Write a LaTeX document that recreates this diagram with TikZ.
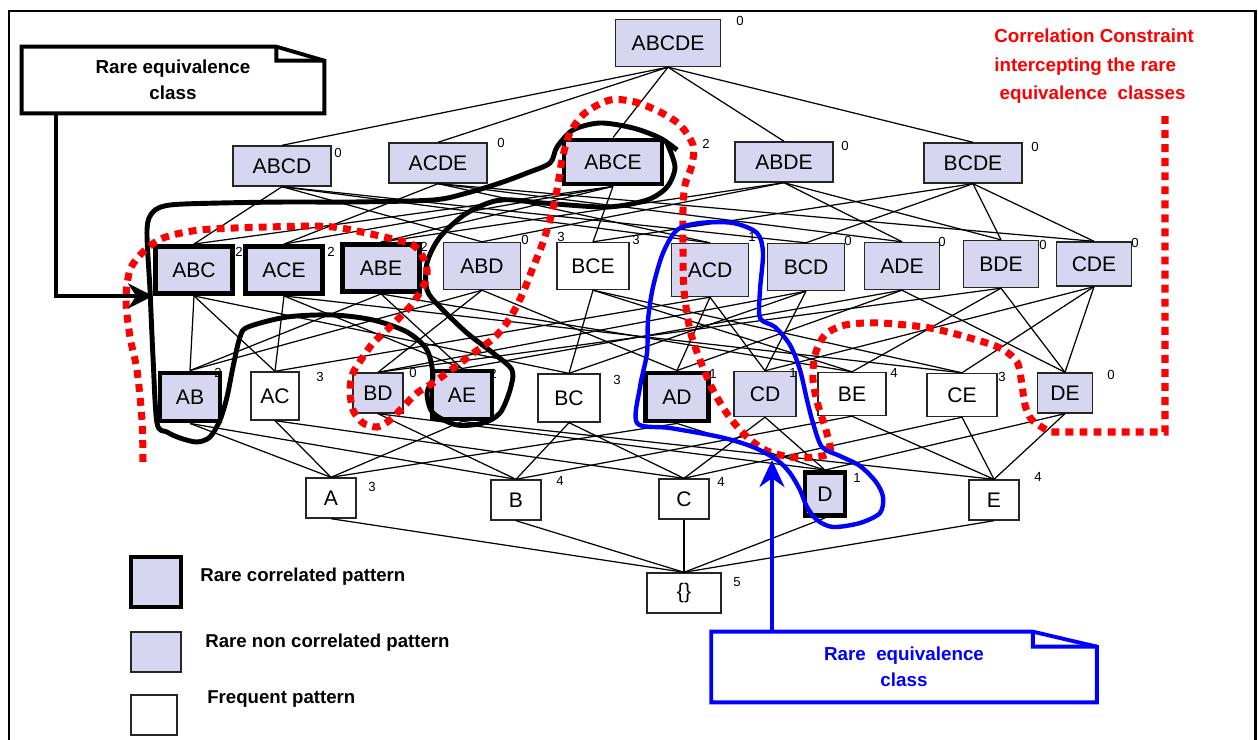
\documentclass[tikz,border=0pt]{standalone}
\usepackage{fontspec}
\setmainfont{Liberation Sans}
\usepackage{tikz}
\usetikzlibrary{arrows.meta}
\definecolor{rarefill}{RGB}{214,214,240}

\begin{document}
\begin{tikzpicture}[x=0.02cm, y=-0.02cm,
	pat/.style={draw=black!85, line width=0.8pt, inner sep=0pt, font=\fontsize{12}{14}\selectfont},
	rare/.style={pat, fill=rarefill},
	corr/.style={pat, fill=rarefill, draw=black, line width=2.8pt},
	freq/.style={pat, fill=white},
	toprow/.style={minimum width=2.1cm, minimum height=0.94cm},
	rowone/.style={minimum width=1.96cm, minimum height=0.8cm},
	rowtwo/.style={minimum width=1.54cm, minimum height=0.94cm},
	rowthree/.style={minimum width=1.2cm, minimum height=0.96cm},
	rowfour/.style={minimum width=1cm, minimum height=0.8cm},
	supp/.style={inner sep=0pt, font=\fontsize{7.5}{9}\selectfont},
	lat/.style={line width=0.7pt},
	notetext/.style={align=center, inner sep=0pt, font=\fontsize{10.7}{15}\selectfont\bfseries},
	noteline/.style={line width=2.2pt, line join=miter},
	legtext/.style={anchor=west, inner sep=0pt, font=\fontsize{10.6}{12}\selectfont\bfseries},
	blackline/.style={line width=2.8pt, line join=round},
	redline/.style={red, line width=4pt, dash pattern=on 4.5pt off 3.5pt},
	blueline/.style={blue, line width=2.5pt, line join=round}]
	\useasboundingbox (0,0) rectangle (1258,740);
	\draw[line width=1.7pt] (9,760) -- (9,11) -- (1255,11) -- (1255,760);

	% lattice
	\node[rare] (ABCDE) at (668,43) [toprow] {ABCDE};
		\node[rare] (ABCD) at (282,166) [rowone] {ABCD};
		\node[rare] (ACDE) at (438,163) [rowone] {ACDE};
		\node[corr] (ABCE) at (613,162) [rowone, minimum height=0.88cm] {ABCE};
		\node[rare] (ABDE) at (784,162) [rowone] {ABDE};
		\node[rare] (BCDE) at (973,163) [rowone] {BCDE};
			\node[corr] (ABC) at (194,270) [rowtwo] {ABC};
			\node[corr] (ACE) at (284,270) [rowtwo] {ACE};
			\node[corr] (ABE) at (381,268) [rowtwo] {ABE};
			\node[rare] (ABD) at (482,266) [rowtwo] {ABD};
			\node[freq] (BCE) at (593,266) [rowtwo, minimum width=1.44cm] {BCE};
			\node[rare] (ACD) at (710,270) [rowtwo, minimum height=1.06cm] {ACD};
			\node[rare] (BCD) at (806,267) [rowtwo] {BCD};
			\node[rare] (ADE) at (902,266) [rowtwo, minimum width=1.5cm] {ADE};
			\node[rare] (BDE) at (1001,264) [rowtwo, minimum width=1.5cm] {BDE};
			\node[rare] (CDE) at (1094,264) [rowtwo, minimum width=1.5cm, minimum height=0.88cm] {CDE};
				\node[corr] (AB) at (190,397) [rowthree] {AB};
				\node[freq] (AC) at (275,396) [rowthree, minimum width=0.96cm] {AC};
				\node[rare] (BD) at (378,393) [rowthree, minimum width=1cm, minimum height=0.8cm] {BD};
				\node[corr] (AE) at (462,395) [rowthree] {AE};
				\node[freq] (BC) at (569,398) [rowthree, minimum width=1.24cm] {BC};
				\node[corr] (AD) at (677,397) [rowthree, minimum width=1.26cm] {AD};
				\node[rare] (CD) at (765,394) [rowthree, minimum width=1.24cm, minimum height=0.9cm] {CD};
				\node[freq] (BE) at (852,394) [rowthree, minimum width=1.36cm, minimum height=0.86cm] {BE};
				\node[freq] (CE) at (962,395) [rowthree, minimum width=1.4cm, minimum height=0.86cm] {CE};
				\node[rare] (DE) at (1065,393) [rowthree, minimum width=1.1cm, minimum height=0.8cm] {DE};
					\node[freq] (A) at (331,498) [rowfour] {A};
					\node[freq] (B) at (516,500) [rowfour] {B};
					\node[freq] (C) at (684,499) [rowfour] {C};
					\node[corr] (D) at (825,494) [rowfour, minimum width=0.8cm, minimum height=0.86cm] {D};
					\node[freq] (E) at (994,500) [rowfour] {E};
						\node[freq] (empty) at (684,593) [rowfour, minimum width=1.48cm] {\{\}};

	% supports
	\node[supp] (sABCDE) at (740,21) {0};
	\node[supp] (sABCD) at (338,153) {0};
	\node[supp] (sACDE) at (501,143) {0};
	\node[supp] (sABCE) at (706,144) {2};
	\node[supp] (sABDE) at (845,146) {0};
	\node[supp] (sBCDE) at (1035,147) {0};
	\node[supp] (sABC) at (239,252) {2};
	\node[supp] (sACE) at (331,252) {2};
	\node[supp] (sABE) at (424,247) {2};
	\node[supp] (sABD) at (525,240) {0};
	\node[supp] (sextra) at (561,237) {3};
	\node[supp] (sBCE) at (636,240) {3};
	\node[supp] (sACD) at (752,237) {1};
	\node[supp] (sBCD) at (848,241) {0};
	\node[supp] (sADE) at (942,242) {0};
	\node[supp] (sBDE) at (1043,245) {0};
	\node[supp] (sCDE) at (1135,243) {0};
	\node[supp] (sAB) at (218,373) {2};
	\node[supp] (sAC) at (320,377) {3};
	\node[supp] (sBD) at (413,373) {0};
	\node[supp] (sAE) at (493,374) {2};
	\node[supp] (sBC) at (617,380) {3};
	\node[supp] (sAD) at (713,374) {1};
	\node[supp] (sCD) at (793,373) {1};
	\node[supp] (sBE) at (894,373) {4};
	\node[supp] (sCE) at (1002,377) {3};
	\node[supp] (sDE) at (1111,375) {0};
	\node[supp] (sA) at (372,487) {3};
	\node[supp] (sB) at (560,481) {4};
	\node[supp] (sC) at (721,482) {4};
	\node[supp] (sD) at (857,478) {1};
	\node[supp] (sE) at (1038,477) {4};
	\node[supp] (sempty) at (737,582) {5};

	\draw[lat] (ABCDE.south) to (ABCD.north);
	\draw[lat] (ABCDE.south) to (ACDE.north);
	\draw[lat] (ABCDE.south) to (ABCE.north);
	\draw[lat] (ABCDE.south) to (ABDE.north);
	\draw[lat] (ABCDE.south) to (BCDE.north);
	\draw[lat] (ABCD.south) to (ABC.north);
	\draw[lat] (ABCD.south) to (ABD.north);
	\draw[lat] (ABCD.south) to (ACD.north);
	\draw[lat] (ABCD.south) to (BCD.north);
	\draw[lat] (ACDE.south) to (ACD.north);
	\draw[lat] (ACDE.south) to (ACE.north);
	\draw[lat] (ACDE.south) to (ADE.north);
	\draw[lat] (ACDE.south) to (CDE.north);
	\draw[lat] (ABCE.south) to (ABC.north);
	\draw[lat] (ABCE.south) to (ABE.north);
	\draw[lat] (ABCE.south) to (ACE.north);
	\draw[lat] (ABCE.south) to (BCE.north);
	\draw[lat] (ABDE.south) to (ABD.north);
	\draw[lat] (ABDE.south) to (ABE.north);
	\draw[lat] (ABDE.south) to (ADE.north);
	\draw[lat] (ABDE.south) to (BDE.north);
	\draw[lat] (BCDE.south) to (BCD.north);
	\draw[lat] (BCDE.south) to (BCE.north);
	\draw[lat] (BCDE.south) to (BDE.north);
	\draw[lat] (BCDE.south) to (CDE.north);
	\draw[lat] (ABC.south) to (AB.north);
	\draw[lat] (ABC.south) to (AC.north);
	\draw[lat] (ABC.south) to (BC.north);
	\draw[lat] (ACE.south) to (AC.north);
	\draw[lat] (ACE.south) to (AE.north);
	\draw[lat] (ACE.south) to (CE.north);
	\draw[lat] (ABE.south) to (AB.north);
	\draw[lat] (ABE.south) to (AE.north);
	\draw[lat] (ABE.south) to (BE.north);
	\draw[lat] (ABD.south) to (AB.north);
	\draw[lat] (ABD.south) to (AD.north);
	\draw[lat] (ABD.south) to (BD.north);
	\draw[lat] (BCE.south) to (BC.north);
	\draw[lat] (BCE.south) to (BE.north);
	\draw[lat] (BCE.south) to (CE.north);
	\draw[lat] (ACD.south) to (AC.north);
	\draw[lat] (ACD.south) to (AD.north);
	\draw[lat] (ACD.south) to (CD.north);
	\draw[lat] (BCD.south) to (BC.north);
	\draw[lat] (BCD.south) to (BD.north);
	\draw[lat] (BCD.south) to (CD.north);
	\draw[lat] (ADE.south) to (AD.north);
	\draw[lat] (ADE.south) to (AE.north);
	\draw[lat] (ADE.south) to (DE.north);
	\draw[lat] (BDE.south) to (BD.north);
	\draw[lat] (BDE.south) to (BE.north);
	\draw[lat] (BDE.south) to (DE.north);
	\draw[lat] (CDE.south) to (CD.north);
	\draw[lat] (CDE.south) to (CE.north);
	\draw[lat] (CDE.south) to (DE.north);
	\draw[lat] (AB.south) to (A.north);
	\draw[lat] (AB.south) to (B.north);
	\draw[lat] (AC.south) to (A.north);
	\draw[lat] (AC.south) to (C.north);
	\draw[lat] (BD.south) to (B.north);
	\draw[lat] (BD.south) to (D.north);
	\draw[lat] (AE.south) to (A.north);
	\draw[lat] (AE.south) to (E.north);
	\draw[lat] (BC.south) to (B.north);
	\draw[lat] (BC.south) to (C.north);
	\draw[lat] (AD.south) to (A.north);
	\draw[lat] (AD.south) to (D.north);
	\draw[lat] (CD.south) to (C.north);
	\draw[lat] (CD.south) to (D.north);
	\draw[lat] (BE.south) to (B.north);
	\draw[lat] (BE.south) to (E.north);
	\draw[lat] (CE.south) to (C.north);
	\draw[lat] (CE.south) to (E.north);
	\draw[lat] (DE.south) to (D.north);
	\draw[lat] (DE.south) to (E.north);
	\draw[lat] (A.south) to (empty.north);
	\draw[lat] (B.south) to (empty.north);
	\draw[lat] (C.south) to (empty.north);
	\draw[lat] (D.south) to (empty.north);
	\draw[lat] (E.south) to (empty.north);

	% classes
	\draw[blackline] plot[smooth, tension=0.5] coordinates {(677,150) (660,138) (633,128) (600,123) (573,130) (557,147) (550,163) (527,173) (500,183) (467,193) (433,200) (353,202) (287,202) (220,203) (170,205) (153,212) (147,230) (150,290) (153,357) (157,423) (167,432) (180,438) (197,442) (210,437) (220,420) (227,397) (233,367) (240,337) (248,327) (287,317) (333,315) (373,320) (407,332) (427,350) (433,377) (427,393) (433,413) (457,425) (483,423) (500,413) (510,390) (512,370) (493,353) (467,333) (440,307) (427,290) (427,263) (440,237) (467,213) (500,200) (543,203) (607,207) (647,200) (667,187) (675,167) (667,143)};
	\draw[redline] plot[smooth, tension=0.5] coordinates {(143,462) (142,420) (137,370) (130,337) (126,300) (130,270) (143,252) (163,238) (200,230) (267,227) (333,227) (397,240) (413,245) (423,257) (427,270) (425,283) (413,303) (400,317) (387,330) (373,343) (363,357) (353,373) (350,390) (353,410) (363,423) (377,427) (390,420) (403,407) (417,393) (433,383) (455,367) (475,352) (495,337) (510,318) (522,295) (532,270) (542,245) (550,220) (557,190) (562,160) (570,133) (585,113) (610,100) (635,102) (660,112) (680,125) (693,145) (692,165) (685,185) (683,210) (683,250) (684,290) (690,330) (700,360) (713,390) (728,415) (745,435) (765,450) (790,457) (815,457) (830,452) (826,430) (818,405) (813,380) (815,355) (825,335) (845,325) (880,323) (930,328) (970,338) (1000,348) (1017,362) (1022,385) (1025,405) (1032,420) (1050,432)} -- (1165,432) -- (1165,113);
	\draw[blueline] plot[smooth cycle, tension=0.5] coordinates {(637,423) (640,387) (647,353) (648,320) (653,287) (663,253) (677,230) (700,223) (733,223) (757,233) (763,253) (760,290) (760,318) (775,327) (790,345) (800,370) (807,400) (813,423) (822,447) (840,456) (860,466) (876,482) (883,497) (880,513) (860,523) (833,527) (817,520) (807,507) (800,490) (790,473) (777,460) (753,447) (720,437) (670,428)};

	% notes
	\node[notetext, minimum width=6.04cm, minimum height=1.32cm] (blacknote) at (173,80) {Rare equivalence\\class};
	\draw[noteline] (blacknote.south west) -- (blacknote.north west) -- ([xshift=-0.96cm]blacknote.north east) -- ([yshift=-0.28cm]blacknote.north east) -- (blacknote.south east) -- cycle;
	\draw[noteline] ([xshift=-0.96cm]blacknote.north east) -- ++(0,14) -- ([yshift=-0.28cm]blacknote.north east);
	\coordinate (blackfoot) at (56,113);
	\draw[line width=2.2pt, -{Stealth[length=0.5cm, width=0.5cm]}] (blackfoot) |- (ABC.south west);

	\node[notetext, text=blue, minimum width=7.7cm, minimum height=1.4cm] (bluenote) at (904,667) {Rare\ \ equivalence\\class};
	\draw[noteline, blue] (bluenote.south west) -- (bluenote.north west) -- ([xshift=-1.28cm]bluenote.north east) -- ([yshift=-0.3cm]bluenote.north east) -- (bluenote.south east) -- cycle;
	\draw[noteline, blue] ([xshift=-1.28cm]bluenote.north east) -- ++(0,15) -- ([yshift=-0.3cm]bluenote.north east);
	\coordinate (bluefoot) at (772,632);
	\coordinate (bluetip) at (772,460);
	\draw[blue, line width=2.2pt, -{Stealth[length=0.54cm, width=0.5cm]}] (bluefoot) -- (bluetip);

	\node[notetext, text=red, align=left, anchor=north west, font=\fontsize{10.7}{16}\selectfont\bfseries] (redtext) at (994,29) {Correlation Constraint\\intercepting the rare\\\ equivalence\ \ classes};

	% legend
	\node[corr, minimum width=1cm, minimum height=1cm] (legcorr) at (156,582) {};
	\node[rare, minimum width=1cm, minimum height=0.8cm] (legrare) at (156,652) {};
	\node[freq, minimum width=0.92cm, minimum height=0.8cm] (legfreq) at (154,715) {};
	\node[legtext] (legcorrtext) at (200,577) {Rare correlated pattern};
	\node[legtext] (legraretext) at (205,643) {Rare non correlated pattern};
	\node[legtext] (legfreqtext) at (207,699) {Frequent pattern};
\end{tikzpicture}
\end{document}
